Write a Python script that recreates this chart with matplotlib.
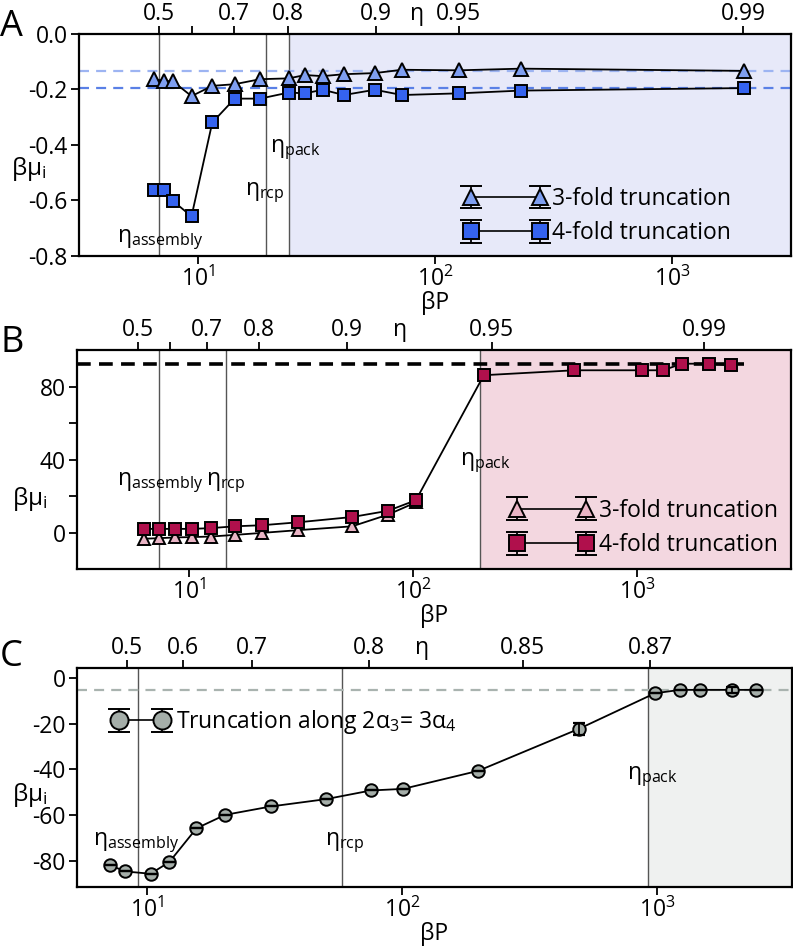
import numpy as np
import matplotlib
matplotlib.use("Agg")
import matplotlib.pyplot as plt
from matplotlib.ticker import NullLocator, FixedLocator
from matplotlib.legend_handler import HandlerErrorbar
from matplotlib.transforms import blended_transform_factory

plt.rcParams['font.family'] = ['Open Sans', 'DejaVu Sans']
plt.rcParams['mathtext.fontset'] = 'custom'
plt.rcParams['mathtext.rm'] = 'Open Sans'
plt.rcParams['mathtext.it'] = 'Open Sans'
plt.rcParams['mathtext.bf'] = 'Open Sans:bold'
plt.rcParams['axes.unicode_minus'] = False
FS = 16.5

# ---- panel A data ----
a_bp = [6.5, 7.2, 7.85, 9.4, 11.5, 14.3, 18.3, 24.2, 28.3, 33.6, 41.3, 55.8, 72.6, 126, 231, 2010]
a_tri = [-0.163, -0.169, -0.171, -0.224, -0.187, -0.181, -0.163, -0.160, -0.148, -0.152,
         -0.145, -0.141, -0.129, -0.131, -0.125, -0.133]
a_sq = [-0.563, -0.563, -0.602, -0.657, -0.319, -0.233, -0.233, -0.211, -0.214, -0.201,
        -0.220, -0.201, -0.220, -0.214, -0.204, -0.195]
a_limits = [-0.133, -0.195]
a_eta_bp = [6.84, 9.4, 14.2, 24.0, 56.4, 126, 2000]
a_eta_lab = ['0.5', '', '0.7', '0.8', '0.9', '0.95', '0.99']
a_marks = {'assembly': 6.84, 'rcp': 19.4, 'pack': 24.2}

# ---- panel B data ----
b_bp = [6.3, 7.35, 8.66, 10.3, 12.5, 16.0, 21.2, 30.7, 53.5, 77.3, 103, 207, 524, 1052,
        1306, 1588, 2096, 2630]
b_sq = [2.0, 2.0, 2.0, 2.0, 2.4, 3.4, 4.0, 5.6, 8.5, 11.9, 17.7, 86.2, 88.9, 88.9, 88.9,
        92.5, 92.5, 91.6]
b_tri = [-3.4, -3.1, -2.7, -2.5, -2.2, -1.3, -0.2, 1.3, 3.4, 9.8, 16.5]
b_limit = 92.1
b_eta_bp = [5.9, 8.2, 12.0, 20.5, 50.7, 225, 1998]
b_eta_lab = ['0.5', '', '0.7', '0.8', '0.9', '0.95', '0.99']
b_marks = {'assembly': 7.35, 'rcp': 14.6, 'pack': 199}

# ---- panel C data ----
c_bp = [7.16, 8.2, 10.3, 12.2, 15.6, 20.2, 30.6, 50.3, 75.5, 101, 199, 494, 982, 1232,
        1474, 1968, 2443]
c_mu = [-82.0, -84.7, -85.7, -80.6, -65.8, -59.9, -56.2, -53.0, -49.2, -48.5, -40.6,
        -22.2, -6.6, -5.1, -5.1, -5.1, -5.1]
c_err = [0, 0, 0, 0, 0, 0, 0, 0, 0, 0, 0, 2.5, 0, 0, 0, 1.2, 0]
c_limit = -5.25
c_eta_bp = [8.35, 13.8, 25.8, 74.3, 298, 940]
c_eta_lab = ['0.5', '0.6', '0.7', '0.8', '0.85', '0.87']
c_marks = {'assembly': 9.2, 'rcp': 58.2, 'pack': 923}

fig = plt.figure(figsize=(7.93, 9.46), dpi=100)
axA = fig.add_axes([0.0996, 0.7294, 0.8979, 0.2347])
axB = fig.add_axes([0.0971, 0.3985, 0.9004, 0.2315])
axC = fig.add_axes([0.0971, 0.0624, 0.9016, 0.2315])


def style_axes(ax, xlim, eta_bp, eta_lab, eta_x):
    ax.set_xscale('log')
    ax.set_xlim(xlim)
    ax.xaxis.set_minor_locator(NullLocator())
    for s in ax.spines.values():
        s.set_linewidth(1.6)
    ax.tick_params(direction='out', length=6, width=1.3, labelsize=FS, pad=2)
    top = ax.twiny()
    top.set_xscale('log')
    top.set_xlim(xlim)
    top.xaxis.set_major_locator(FixedLocator(eta_bp))
    top.xaxis.set_minor_locator(NullLocator())
    top.set_xticklabels(eta_lab)
    top.tick_params(direction='out', length=6, width=1.3, labelsize=FS, pad=0)
    for s in top.spines.values():
        s.set_visible(False)
    tr = blended_transform_factory(ax.transData, ax.transAxes)
    ax.text(eta_x, 1.035, 'η', transform=tr, ha='center', va='bottom', fontsize=FS)
    ax.set_xlabel('βP', fontsize=FS, labelpad=-1)
    ax.set_ylabel('βμ$_{\\rm i}$', fontsize=FS + 1, rotation=0, ha='center', va='center')


def vlines(ax, marks, shade):
    for v in marks.values():
        ax.axvline(v, color='#555555', lw=1.0, zorder=1)
    ax.axvspan(marks['pack'], ax.get_xlim()[1], color=shade, zorder=0, lw=0)


def proxy(ax, marker, face, ms):
    return ax.errorbar([np.nan], [np.nan], yerr=[1], fmt='-', marker=marker, color='black',
                       mfc=face, mec='black', ms=ms, mew=1.4, lw=1.2, capsize=8,
                       capthick=1.8, elinewidth=1.3)


# ---------------- A ----------------
style_axes(axA, (3.15, 3180), a_eta_bp, a_eta_lab, 84)
axA.set_ylim(-0.8, 0.0)
axA.set_yticks([-0.8, -0.6, -0.4, -0.2, 0.0])
axA.set_yticklabels(['-0.8', '-0.6', '-0.4', '-0.2', '0.0'])
vlines(axA, a_marks, '#e7e9f9')
axA.axhline(a_limits[0], color='#9db4f2', lw=1.6, dashes=(4.5, 3.2), zorder=2)
axA.axhline(a_limits[1], color='#5a80e6', lw=1.6, dashes=(4.5, 3.2), zorder=2)
axA.plot(a_bp, a_tri, '-', marker='^', color='black', mfc='#7e9ef0', mec='black', ms=10,
         mew=1.4, lw=1.3, zorder=3)
axA.plot(a_bp, a_sq, '-', marker='s', color='black', mfc='#3563ef', mec='black', ms=9,
         mew=1.4, lw=1.3, zorder=3)
hA1 = proxy(axA, '^', '#7e9ef0', 12)
hA2 = proxy(axA, 's', '#3563ef', 11)
axA.legend([hA1, hA2], ['3-fold truncation', '4-fold truncation'], loc='lower right',
           bbox_to_anchor=(0.945, -0.045), frameon=False, numpoints=2, handlelength=3.6,
           handletextpad=0.25, labelspacing=0.45, fontsize=FS,
           handler_map={type(hA1): HandlerErrorbar(yerr_size=0.5)})
axA.text(4.55, -0.742, 'η$_{\\rm assembly}$', ha='left', va='center', fontsize=FS)
axA.text(15.8, -0.573, 'η$_{\\rm rcp}$', ha='left', va='center', fontsize=FS)
axA.text(20.1, -0.418, 'η$_{\\rm pack}$', ha='left', va='center', fontsize=FS)
axA.yaxis.set_label_coords(-0.07, 0.39)

# ---------------- B ----------------
style_axes(axB, (3.16, 4870), b_eta_bp, b_eta_lab, 87.5)
axB.set_ylim(-20, 100)
axB.set_yticks([0, 40, 80])
axB.yaxis.set_minor_locator(FixedLocator([20, 60]))
axB.tick_params(axis='y', which='minor', direction='out', length=6, width=1.3)
vlines(axB, b_marks, '#f3d7e0')
axB.plot([3.16, 3000], [b_limit, b_limit], color='black', lw=2.6, dashes=(3.8, 2.3),
         zorder=2)
axB.plot(b_bp[:len(b_tri)], b_tri, '-', marker='^', color='black', mfc='#e9b4c5',
         mec='black', ms=9, mew=1.4, lw=1.3, zorder=3)
axB.plot(b_bp, b_sq, '-', marker='s', color='black', mfc='#b0104c', mec='black', ms=8.5,
         mew=1.4, lw=1.3, zorder=4)
hB1 = proxy(axB, '^', '#e9b4c5', 12)
hB2 = proxy(axB, 's', '#b0104c', 11)
axB.legend([hB1, hB2], ['3-fold truncation', '4-fold truncation'], loc='lower right',
           bbox_to_anchor=(1.01, -0.04), frameon=False, numpoints=2, handlelength=3.6,
           handletextpad=0.25, labelspacing=0.45, fontsize=FS,
           handler_map={type(hB1): HandlerErrorbar(yerr_size=0.5)})
axB.text(4.77, 27.2, 'η$_{\\rm assembly}$', ha='left', va='center', fontsize=FS)
axB.text(11.9, 27.2, 'η$_{\\rm rcp}$', ha='left', va='center', fontsize=FS)
axB.text(162, 38.1, 'η$_{\\rm pack}$', ha='left', va='center', fontsize=FS)
axB.yaxis.set_label_coords(-0.066, 0.32)

# ---------------- C ----------------
style_axes(axC, (5.3, 3390), c_eta_bp, c_eta_lab, 120)
axC.set_ylim(-91.5, 4.5)
axC.set_yticks([-80, -60, -40, -20, 0])
vlines(axC, c_marks, '#eff1f0')
axC.axhline(c_limit, color='#a9b3af', lw=1.6, dashes=(4.5, 3.2), zorder=2)
axC.plot(c_bp, c_mu, '-', marker='o', color='black', mfc='#a5aea9', mec='black', ms=9,
         mew=1.4, lw=1.3, zorder=3)
axC.errorbar(c_bp, c_mu, yerr=c_err, fmt='none', ecolor='black', capsize=4, capthick=1.6,
             elinewidth=1.3, zorder=3)
hC = proxy(axC, 'o', '#a5aea9', 13)
axC.legend([hC], ['Truncation along 2α$_3$= 3α$_4$'], loc='upper left',
           bbox_to_anchor=(0.02, 0.91), frameon=False, numpoints=2, handlelength=2.5,
           handletextpad=0.3, fontsize=FS,
           handler_map={type(hC): HandlerErrorbar(yerr_size=0.5)})
axC.text(6.14, -72.2, 'η$_{\\rm assembly}$', ha='left', va='center', fontsize=FS)
axC.text(49.9, -72.2, 'η$_{\\rm rcp}$', ha='left', va='center', fontsize=FS)
axC.text(762, -43.3, 'η$_{\\rm pack}$', ha='left', va='center', fontsize=FS)
axC.yaxis.set_label_coords(-0.066, 0.42)

fig.text(0.0, 0.99, 'A', fontsize=26, va='top', ha='left')
fig.text(0.0, 0.656, 'B', fontsize=26, va='top', ha='left')
fig.text(0.0, 0.324, 'C', fontsize=26, va='top', ha='left')

fig.savefig('out.png', dpi=100)
